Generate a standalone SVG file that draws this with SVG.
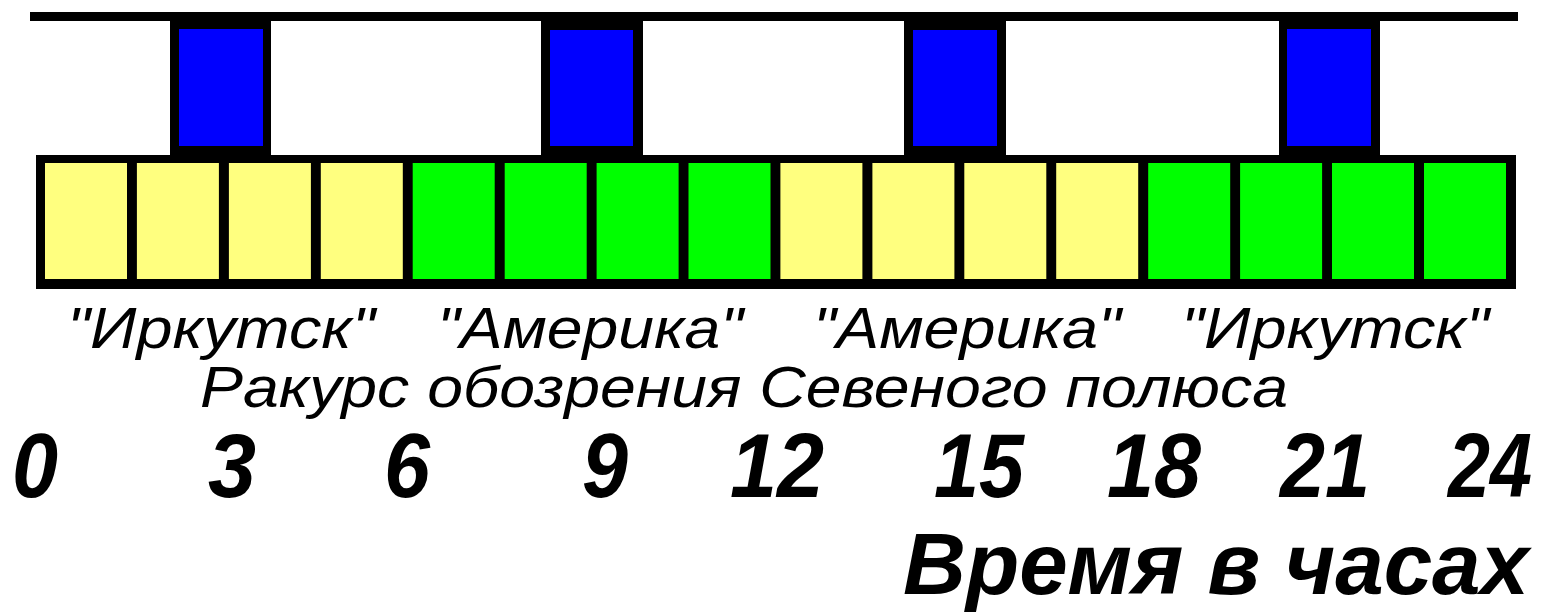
<svg xmlns="http://www.w3.org/2000/svg" width="1546" height="613" viewBox="0 0 1546 613">
<style>
.blk{fill:#000}
.y{fill:#ffff7f}
.g{fill:#00ff00}
.b{fill:#0000ff}
.lbl{font-family:"Liberation Sans",Arial,sans-serif;font-style:italic;font-size:58px;fill:#000}
.num{font-family:"Liberation Sans",Arial,sans-serif;font-style:italic;font-weight:bold;font-size:90px;fill:#000}
.ttl{font-family:"Liberation Sans",Arial,sans-serif;font-style:italic;font-weight:bold;font-size:88px;fill:#000}
</style>
<rect width="1546" height="613" fill="#fff"/>
<g id="connectors">
<rect class="blk" x="30" y="12" width="1488" height="9"/>
</g>
<g id="strip">
<rect class="blk" x="36" y="155" width="1480" height="134"/>
<rect class="y" x="45" y="163" width="82" height="116"/>
<rect class="y" x="136.9" y="163" width="82" height="116"/>
<rect class="y" x="228.9" y="163" width="82" height="116"/>
<rect class="y" x="320.8" y="163" width="82" height="116"/>
<rect class="g" x="412.7" y="163" width="82" height="116"/>
<rect class="g" x="504.7" y="163" width="82" height="116"/>
<rect class="g" x="596.6" y="163" width="82" height="116"/>
<rect class="g" x="688.5" y="163" width="82" height="116"/>
<rect class="y" x="780.4" y="163" width="82" height="116"/>
<rect class="y" x="872.4" y="163" width="82" height="116"/>
<rect class="y" x="964.3" y="163" width="82" height="116"/>
<rect class="y" x="1056.2" y="163" width="82" height="116"/>
<rect class="g" x="1148.2" y="163" width="82" height="116"/>
<rect class="g" x="1240.1" y="163" width="82" height="116"/>
<rect class="g" x="1332" y="163" width="82" height="116"/>
<rect class="g" x="1424" y="163" width="82" height="116"/>
</g>
<g id="blue1">
<rect class="blk" x="170" y="12" width="101" height="150"/>
<rect class="b" x="179" y="29" width="84" height="117"/>
</g>
<g id="blue2">
<rect class="blk" x="541" y="12" width="102" height="150"/>
<rect class="b" x="550" y="30" width="83" height="116"/>
</g>
<g id="blue3">
<rect class="blk" x="904" y="12" width="102" height="150"/>
<rect class="b" x="913" y="30" width="84" height="116"/>
</g>
<g id="blue4">
<rect class="blk" x="1279" y="12" width="101" height="150"/>
<rect class="b" x="1287" y="29" width="84" height="117"/>
</g>
<g id="labels">
<text class="lbl" x="67" y="348" textLength="308" lengthAdjust="spacingAndGlyphs">"Иркутск"</text>
<text class="lbl" x="437" y="348" textLength="306" lengthAdjust="spacingAndGlyphs">"Америка"</text>
<text class="lbl" x="813" y="348" textLength="308" lengthAdjust="spacingAndGlyphs">"Америка"</text>
<text class="lbl" x="1181" y="348" textLength="308" lengthAdjust="spacingAndGlyphs">"Иркутск"</text>
<text class="lbl" x="200" y="407" textLength="1088" lengthAdjust="spacingAndGlyphs">Ракурс обозрения Севеного полюса</text>
</g>
<g id="numbers">
<text class="num" x="12" y="497" textLength="46" lengthAdjust="spacingAndGlyphs">0</text>
<text class="num" x="208" y="497" textLength="48" lengthAdjust="spacingAndGlyphs">3</text>
<text class="num" x="384" y="497" textLength="46" lengthAdjust="spacingAndGlyphs">6</text>
<text class="num" x="582" y="497" textLength="46" lengthAdjust="spacingAndGlyphs">9</text>
<text class="num" x="730" y="497" textLength="94" lengthAdjust="spacingAndGlyphs">12</text>
<text class="num" x="934" y="497" textLength="90" lengthAdjust="spacingAndGlyphs">15</text>
<text class="num" x="1107" y="497" textLength="94" lengthAdjust="spacingAndGlyphs">18</text>
<text class="num" x="1280" y="497" textLength="90" lengthAdjust="spacingAndGlyphs">21</text>
<text class="num" x="1448" y="497" textLength="84" lengthAdjust="spacingAndGlyphs">24</text>
</g>
<g id="title">
<text class="ttl" x="903" y="594" textLength="626" lengthAdjust="spacingAndGlyphs">Время в часах</text>
</g>
</svg>
